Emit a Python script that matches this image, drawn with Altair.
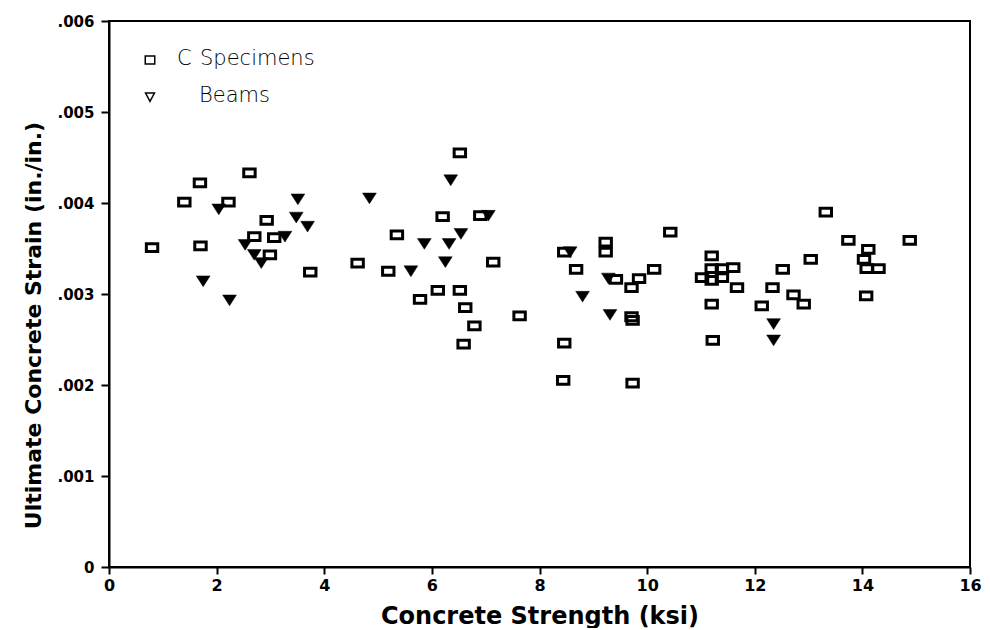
import altair as alt
import pandas as pd

# ---- data (strength in ksi, strain in thousandths in./in.) ----
spec_x = [0.80, 1.69, 1.40, 2.22, 2.61, 1.70, 2.93, 2.70, 3.07, 2.99, 3.74, 4.62, 5.19, 5.35,
          6.52, 6.20, 6.90, 7.14, 5.78, 6.11, 6.52, 6.62, 6.79, 6.59, 7.63, 10.43, 8.46, 8.68,
          8.46, 8.44, 9.23, 9.23, 9.42, 9.85, 10.13, 9.71, 9.71, 9.73, 9.73, 11.20, 11.20, 11.39,
          11.60, 11.02, 11.20, 11.39, 11.67, 11.20, 11.22, 13.32, 13.74, 14.88, 14.11, 14.03,
          14.08, 14.30, 14.07, 13.04, 12.52, 12.33, 12.13, 12.72, 12.91]
spec_y = [3.51, 4.22, 4.01, 4.01, 4.33, 3.53, 3.81, 3.63, 3.62, 3.43, 3.24, 3.34, 3.25, 3.65,
          4.55, 3.85, 3.86, 3.35, 2.94, 3.04, 3.04, 2.85, 2.65, 2.45, 2.76, 3.68, 3.46, 3.27,
          2.46, 2.05, 3.57, 3.46, 3.16, 3.17, 3.27, 3.07, 2.75, 2.71, 2.02, 3.42, 3.28, 3.28,
          3.29, 3.18, 3.15, 3.18, 3.07, 2.89, 2.49, 3.90, 3.59, 3.59, 3.49, 3.38,
          3.28, 3.28, 2.98, 3.38, 3.27, 3.07, 2.87, 2.99, 2.89]

beam_x = [2.04, 1.75, 2.24, 2.53, 2.70, 2.83, 3.27, 3.51, 3.48, 3.69, 4.84, 6.35, 6.54, 5.86,
          6.32, 6.25, 5.61, 7.05, 8.57, 8.80, 9.31, 9.28, 12.35, 12.35]
beam_y = [3.93, 3.14, 2.93, 3.54, 3.43, 3.34, 3.63, 4.04, 3.84, 3.74, 4.05, 4.25, 3.66, 3.55,
          3.55, 3.35, 3.25, 3.86, 3.46, 2.97, 2.77, 3.17, 2.67, 2.49]

series_names = ["C Specimens", "Beams"]
x_ticks = [0, 2, 4, 6, 8, 10, 12, 14, 16]
y_ticks = [0, 0.001, 0.002, 0.003, 0.004, 0.005, 0.006]

df = pd.DataFrame({
    "strength": spec_x + beam_x,
    "strain": [v / 1000 for v in spec_y + beam_y],
    "series": [series_names[0]] * len(spec_x) + [series_names[1]] * len(beam_x),
})

RECT = "M-1,-0.68 L1,-0.68 L1,0.68 L-1,0.68 Z"
TRI = "M-1,-0.78 L1,-0.78 L0,0.78 Z"
LEG_RECT = "M-1,-0.85 L1,-0.85 L1,0.85 L-1,0.85 Z"
LEG_TRI = "M-1,-0.9 L1,-0.9 L0,1 Z"

FONT = "DejaVu Sans"

x_enc = alt.X("strength:Q",
              scale=alt.Scale(domain=[0, 16], nice=False, zero=True),
              axis=alt.Axis(values=x_ticks, title="Concrete Strength (ksi)", grid=False,
                            tickSize=7, tickWidth=2, tickColor="black",
                            domainColor="black", domainWidth=2,
                            labelFont=FONT, labelFontWeight="bold", labelFontSize=16,
                            labelColor="black", labelPadding=3, labelFlush=False,
                            titleFont=FONT, titleFontWeight="bold", titleFontSize=24,
                            titleColor="black", titleY=49, titleBaseline="middle"))
y_enc = alt.Y("strain:Q",
              scale=alt.Scale(domain=[0, 0.006], nice=False, zero=True),
              axis=alt.Axis(values=y_ticks, title="Ultimate Concrete Strain (in./in.)", grid=False,
                            labelExpr="datum.value == 0 ? '0' : replace(format(datum.value, '.3f'), '0.', '.')",
                            tickSize=8, tickWidth=2, tickColor="black",
                            domainColor="black", domainWidth=2,
                            labelFont=FONT, labelFontWeight="bold", labelFontSize=15,
                            labelColor="black", labelPadding=7, labelFlush=False,
                            titleFont=FONT, titleFontWeight="bold", titleFontSize=22,
                            titleColor="black", titleAngle=270, titleX=-76, titleY=304,
                            titleAlign="center", titleBaseline="middle"))

base = alt.Chart(df)

squares = base.transform_filter(alt.datum.series == series_names[0]).mark_point(
    shape=RECT, size=130, filled=False, stroke="black", strokeWidth=3, opacity=1
).encode(x=x_enc, y=y_enc)

triangles = base.transform_filter(alt.datum.series == series_names[1]).mark_point(
    shape=TRI, size=190, filled=True, fill="black", stroke="black", strokeWidth=0.5, opacity=1
).encode(x=x_enc, y=y_enc)

# ---- legend drawn inside the plot, top-left ----
one = alt.Data(values=[{"a": 1}])
leg_sq = alt.Chart(one).mark_point(shape=LEG_RECT, size=90, filled=False, stroke="black",
                                    strokeWidth=1.5, opacity=1).encode(
    x=alt.value(41), y=alt.value(39))
leg_tri = alt.Chart(one).mark_point(shape=LEG_TRI, size=80, filled=False, stroke="black",
                                     strokeWidth=1.5, opacity=1).encode(
    x=alt.value(41), y=alt.value(76))
leg_c = alt.Chart(one).mark_text(text="C", align="left", baseline="middle", font=FONT,
                                 fontSize=21, fontWeight=300, color="black").encode(
    x=alt.value(68), y=alt.value(38))
leg_spec = alt.Chart(one).mark_text(text="Specimens", align="left", baseline="middle", font=FONT,
                                    fontSize=21, fontWeight=300, color="black").encode(
    x=alt.value(91), y=alt.value(38))
leg_beam = alt.Chart(one).mark_text(text="Beams", align="left", baseline="middle", font=FONT,
                                    fontSize=21, fontWeight=300, color="black").encode(
    x=alt.value(90), y=alt.value(75))

chart = alt.layer(squares, triangles, leg_sq, leg_tri, leg_c, leg_spec, leg_beam).properties(
    width=861, height=546, autosize="none",
    padding={"left": 101, "top": 13, "right": 12, "bottom": 61},
    background="white",
).configure_view(stroke="black", strokeWidth=2)

chart.save("out.html", embed_options={"renderer": "svg", "actions": False})
